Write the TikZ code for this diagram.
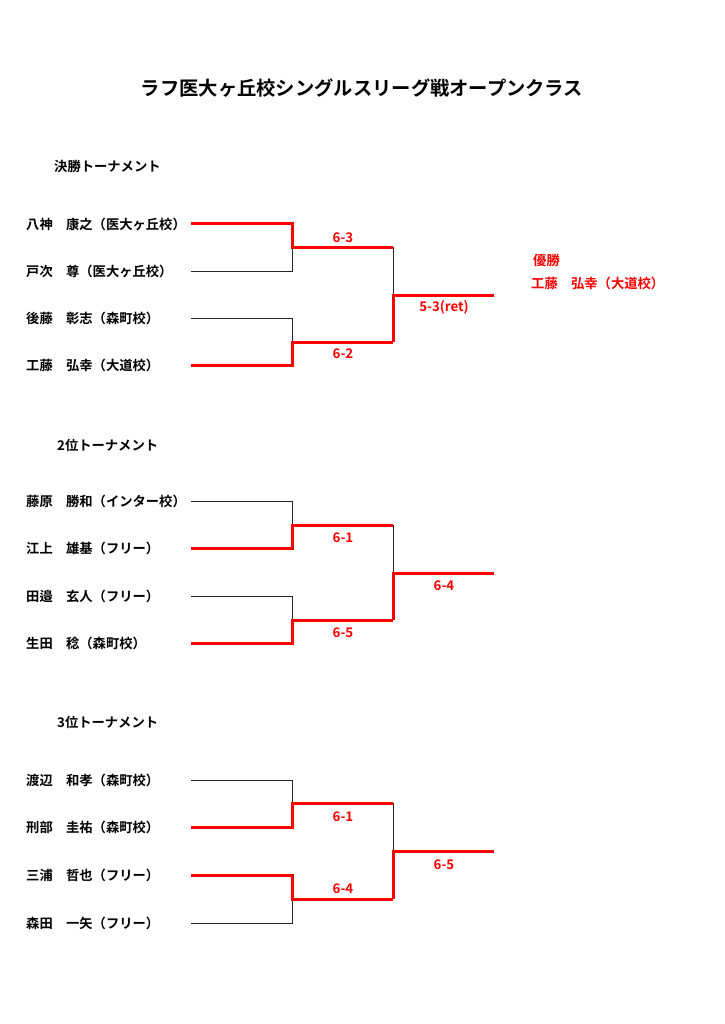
\documentclass[tikz,border=0pt]{standalone}
\usepackage{fontspec}
\setmainfont{Noto Sans CJK JP}[BoldFont={Noto Sans CJK JP Bold}]
\begin{document}
\begin{tikzpicture}[x=1pt,y=-1pt,
  player/.style={anchor=west,inner sep=0pt,font=\fontsize{13.3}{15}\selectfont\bfseries},
  hdr/.style={anchor=west,inner sep=0pt,font=\fontsize{13.3}{15}\selectfont\bfseries},
  scorelbl/.style={inner sep=0pt,text=red,font=\fontsize{13.3}{15}\selectfont\bfseries},
  lose/.style={draw=black!85,line width=0.9pt},
  win/.style={draw=red,line width=3pt,line join=miter},
]
\useasboundingbox (0,0) rectangle (724,1024);
\node[inner sep=0pt,font=\fontsize{19.3}{21}\selectfont\bfseries] (title) at (362,88) {ラフ医大ヶ丘校シングルスリーグ戦オープンクラス};

% ---------- Section 1 ----------
\node[hdr] (h1) at (54,166.5) {決勝トーナメント};
\node[player] (p11) at (26,224.5) {八神　康之（医大ヶ丘校）};
\node[player] (p12) at (26,271.5) {戸次　尊（医大ヶ丘校）};
\node[player] (p13) at (26,318.5) {後藤　彰志（森町校）};
\node[player] (p14) at (26,365.5) {工藤　弘幸（大道校）};
\coordinate (a1) at (191,224); \coordinate (a1e) at (292,224);
\coordinate (a2) at (191,271); \coordinate (a2e) at (292,271);
\coordinate (a3) at (191,318); \coordinate (a3e) at (292,318);
\coordinate (a4) at (191,365); \coordinate (a4e) at (292,365);
\coordinate (m1) at (292,247); \coordinate (m1e) at (393,247);
\coordinate (m2) at (292,342); \coordinate (m2e) at (393,342);
\coordinate (f1) at (393,295); \coordinate (f1e) at (494,295);
\draw[lose] (a2) -- (a2e) -- (m1);
\draw[lose] (a3) -- (a3e) -- (m2);
\draw[lose] (m1e) -- (f1);
\draw[win] (a1) -- (a1e) -- (m1) -- (m1e);
\draw[win] (a4) -- (a4e) -- (m2) -- (m2e);
\draw[win] (m2e) -- (f1) -- (f1e);
\node[scorelbl] (s11) at (343,237.5) {6-3};
\node[scorelbl] (s12) at (343,353.5) {6-2};
\node[scorelbl] (s13) at (444,307.5) {5-3(ret)};
\node[hdr,text=red] (champ) at (533,260.5) {優勝};
\node[hdr,text=red] (champn) at (531,283.5) {工藤　弘幸（大道校）};

% ---------- Section 2 ----------
\node[hdr] (h2) at (57,445.5) {2位トーナメント};
\node[player] (p21) at (26,501.5) {藤原　勝和（インター校）};
\node[player] (p22) at (26,548.5) {江上　雄基（フリー）};
\node[player] (p23) at (26,596.5) {田邉　玄人（フリー）};
\node[player] (p24) at (26,643.5) {生田　稔（森町校）};
\coordinate (b1) at (191,501); \coordinate (b1e) at (292,501);
\coordinate (b2) at (191,548); \coordinate (b2e) at (292,548);
\coordinate (b3) at (191,596); \coordinate (b3e) at (292,596);
\coordinate (b4) at (191,643); \coordinate (b4e) at (292,643);
\coordinate (n1) at (292,525); \coordinate (n1e) at (393,525);
\coordinate (n2) at (292,620); \coordinate (n2e) at (393,620);
\coordinate (g1) at (393,573); \coordinate (g1e) at (494,573);
\draw[lose] (b1) -- (b1e) -- (n1);
\draw[lose] (b3) -- (b3e) -- (n2);
\draw[lose] (n1e) -- (g1);
\draw[win] (b2) -- (b2e) -- (n1) -- (n1e);
\draw[win] (b4) -- (b4e) -- (n2) -- (n2e);
\draw[win] (n2e) -- (g1) -- (g1e);
\node[scorelbl] (s21) at (343,537.5) {6-1};
\node[scorelbl] (s22) at (343,632.5) {6-5};
\node[scorelbl] (s23) at (444,585.5) {6-4};

% ---------- Section 3 ----------
\node[hdr] (h3) at (57,722.5) {3位トーナメント};
\node[player] (p31) at (26,780.5) {渡辺　和孝（森町校）};
\node[player] (p32) at (26,827.5) {刑部　圭祐（森町校）};
\node[player] (p33) at (26,875.5) {三浦　哲也（フリー）};
\node[player] (p34) at (26,923.5) {森田　一矢（フリー）};
\coordinate (c1) at (191,780); \coordinate (c1e) at (292,780);
\coordinate (c2) at (191,827); \coordinate (c2e) at (292,827);
\coordinate (c3) at (191,875); \coordinate (c3e) at (292,875);
\coordinate (c4) at (191,923); \coordinate (c4e) at (292,923);
\coordinate (o1) at (292,803); \coordinate (o1e) at (393,803);
\coordinate (o2) at (292,899); \coordinate (o2e) at (393,899);
\coordinate (k1) at (393,851); \coordinate (k1e) at (494,851);
\draw[lose] (c1) -- (c1e) -- (o1);
\draw[lose] (c4) -- (c4e) -- (o2);
\draw[lose] (o1e) -- (k1);
\draw[win] (c2) -- (c2e) -- (o1) -- (o1e);
\draw[win] (c3) -- (c3e) -- (o2) -- (o2e);
\draw[win] (o2e) -- (k1) -- (k1e);
\node[scorelbl] (s31) at (343,816.5) {6-1};
\node[scorelbl] (s32) at (343,888.5) {6-4};
\node[scorelbl] (s33) at (444,864.5) {6-5};
\end{tikzpicture}
\end{document}
